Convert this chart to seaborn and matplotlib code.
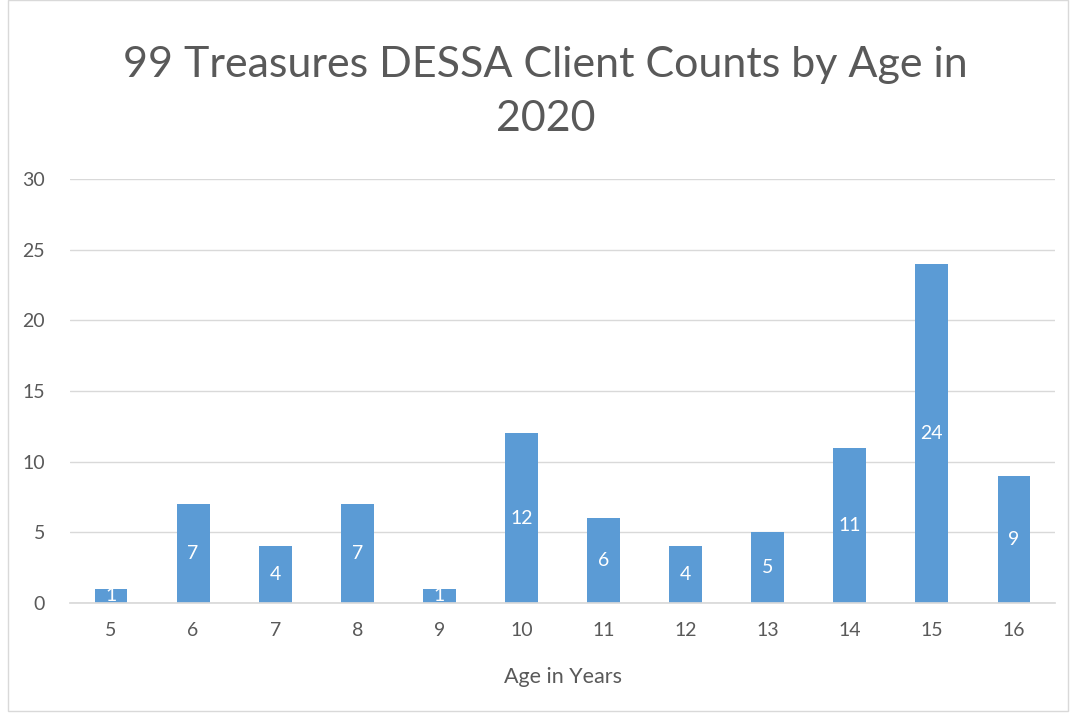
import matplotlib
matplotlib.use("Agg")
import matplotlib.pyplot as plt
import seaborn as sns
import pandas as pd
from matplotlib.patches import Rectangle

ages = ["5", "6", "7", "8", "9", "10", "11", "12", "13", "14", "15", "16"]
counts = [1, 7, 4, 7, 1, 12, 6, 4, 5, 11, 24, 9]
yticks = [0, 5, 10, 15, 20, 25, 30]

sns.set_theme(style="white")
plt.rcParams['font.family'] = ['Lato', 'DejaVu Sans']

df = pd.DataFrame({"Age": ages, "Count": counts})

fig = plt.figure(figsize=(10.76, 7.17), dpi=100)
ax = fig.add_axes([70/1076, 114/717, 985/1076, 424/717])

sns.barplot(data=df, x="Age", y="Count", order=ages, color="#5B9BD5",
            saturation=1, width=0.4, linewidth=0, edgecolor="none", ax=ax)

ax.set_ylim(0, 30)
ax.set_xlim(-0.5, 11.5)
ax.set_yticks(yticks)
ax.set_yticklabels([str(v) for v in yticks])
ax.yaxis.grid(True, color="#D9D9D9", linewidth=1)
ax.set_axisbelow(True)
for s in ["top", "right", "left"]:
    ax.spines[s].set_visible(False)
ax.spines["bottom"].set_color("#D9D9D9")
ax.tick_params(axis="both", length=0, labelsize=14, colors="#595959")
ax.tick_params(axis="x", pad=14)
ax.tick_params(axis="y", pad=18)
ax.set_ylabel("")
ax.set_xlabel("Age in Years", fontsize=15.5, color="#595959", labelpad=20)

for c in ax.containers:
    ax.bar_label(c, label_type="center", color="white", fontsize=14)

fig.text(0.507, 0.872, "99 Treasures DESSA Client Counts by Age in\n2020",
         ha="center", va="center", fontsize=31, color="#595959",
         linespacing=1.5)

fig.patches.append(Rectangle((8/1076, 6/717), 1060/1076, 711/717,
                             transform=fig.transFigure, fill=False,
                             edgecolor="#D9D9D9", linewidth=1))

fig.savefig("out.png", dpi=100)
